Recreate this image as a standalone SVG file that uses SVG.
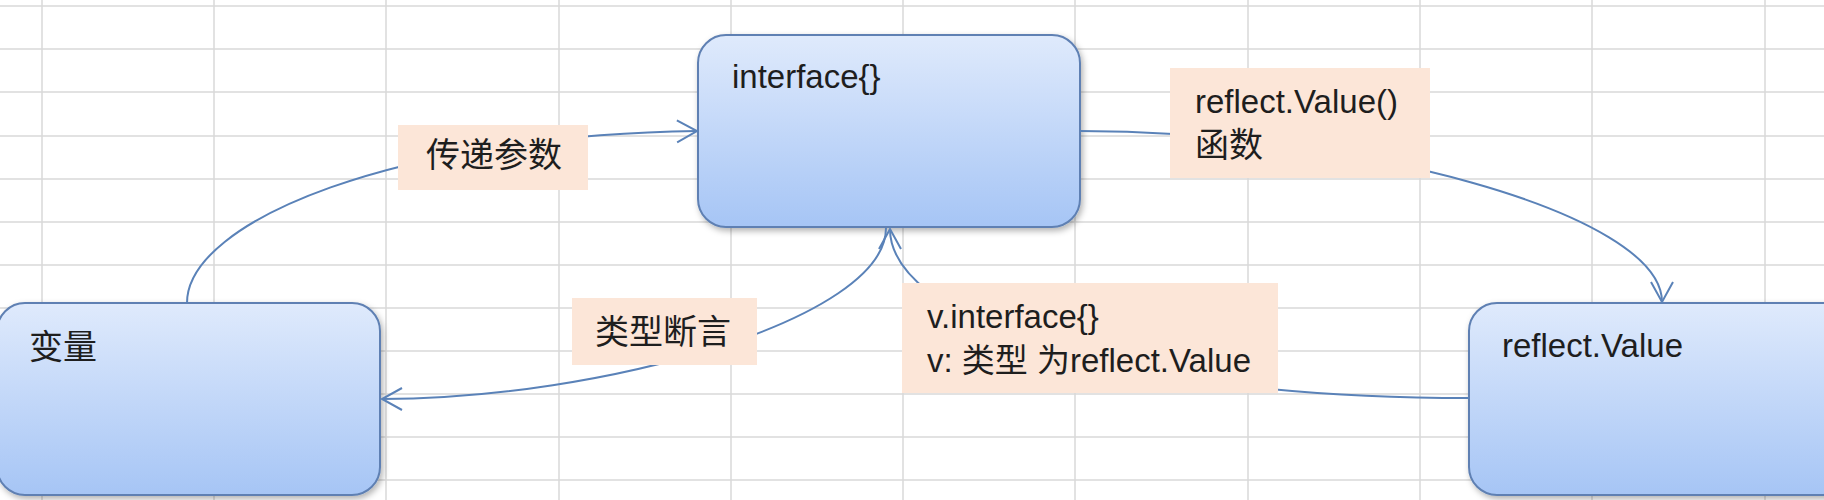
<svg xmlns="http://www.w3.org/2000/svg" width="1824" height="500" viewBox="0 0 1824 500">
<defs>
  <linearGradient id="nodeFill" x1="0" y1="0" x2="0" y2="1">
    <stop offset="0" stop-color="#dfeafc"/>
    <stop offset="1" stop-color="#a6c5f5"/>
  </linearGradient>
  <filter id="shadow" x="-10%" y="-10%" width="125%" height="130%">
    <feDropShadow dx="2" dy="3" stdDeviation="3" flood-color="#000" flood-opacity="0.3"/>
  </filter>
  <marker id="arrow" markerUnits="userSpaceOnUse" viewBox="-24 -14 26 28" refX="0" refY="0" markerWidth="26" markerHeight="28" orient="auto" overflow="visible">
    <path d="M-20,-11 L0,0 L-20,11" fill="none" stroke="#5a82b8" stroke-width="2"/>
  </marker>
</defs>
<style>
  .grid line { stroke: #d9d9d9; stroke-width: 1.5; }
  .box { fill: url(#nodeFill); stroke: #5f80b3; stroke-width: 2; filter: url(#shadow); }
  .lbl { fill: #fce6d8; }
  text { font-family: "Liberation Sans", "Noto Sans CJK SC", sans-serif; font-size: 33px; fill: #1e1e1e; }
  .cjk { font-size: 34px; }
  .conn path { fill: none; stroke: #5a82b8; stroke-width: 2; }
</style>
<rect x="0" y="0" width="1824" height="500" fill="#ffffff"/>
<g class="grid">
  <line x1="42" y1="0" x2="42" y2="500"/>
  <line x1="214" y1="0" x2="214" y2="500"/>
  <line x1="386" y1="0" x2="386" y2="500"/>
  <line x1="559" y1="0" x2="559" y2="500"/>
  <line x1="731" y1="0" x2="731" y2="500"/>
  <line x1="903" y1="0" x2="903" y2="500"/>
  <line x1="1075" y1="0" x2="1075" y2="500"/>
  <line x1="1248" y1="0" x2="1248" y2="500"/>
  <line x1="1420" y1="0" x2="1420" y2="500"/>
  <line x1="1592" y1="0" x2="1592" y2="500"/>
  <line x1="1765" y1="0" x2="1765" y2="500"/>
  <line x1="0" y1="6" x2="1824" y2="6"/>
  <line x1="0" y1="49" x2="1824" y2="49"/>
  <line x1="0" y1="92" x2="1824" y2="92"/>
  <line x1="0" y1="136" x2="1824" y2="136"/>
  <line x1="0" y1="179" x2="1824" y2="179"/>
  <line x1="0" y1="222" x2="1824" y2="222"/>
  <line x1="0" y1="265" x2="1824" y2="265"/>
  <line x1="0" y1="308" x2="1824" y2="308"/>
  <line x1="0" y1="351" x2="1824" y2="351"/>
  <line x1="0" y1="394" x2="1824" y2="394"/>
  <line x1="0" y1="437" x2="1824" y2="437"/>
  <line x1="0" y1="480" x2="1824" y2="480"/>
</g>
<g id="node-interface">
  <rect class="box" x="698" y="35" width="382" height="192" rx="28" ry="28"/>
  <text x="732" y="88">interface{}</text>
</g>
<g id="node-variable">
  <rect class="box" x="-3" y="303" width="383" height="192" rx="28" ry="28"/>
  <text class="cjk" x="29" y="359">变量</text>
</g>
<g id="node-reflect-value">
  <rect class="box" x="1469" y="303" width="382" height="192" rx="28" ry="28"/>
  <text x="1502" y="357">reflect.Value</text>
</g>
<g class="conn" id="connectors">
  <path d="M187,303 C187,220 400,135 697,131" marker-end="url(#arrow)"/>
  <path d="M1080,131 C1350,131 1662,212 1662,302" marker-end="url(#arrow)"/>
  <path d="M886,228 C886,320 600,399 382,399" marker-end="url(#arrow)"/>
  <path d="M1469,398 C1100,398 890,315 890,229" marker-end="url(#arrow)"/>
</g>
<g id="labels">
  <g id="label-pass">
    <rect class="lbl" x="398" y="125" width="190" height="65"/>
    <text class="cjk" x="426" y="167">传递参数</text>
  </g>
  <g id="label-reflect-func">
    <rect class="lbl" x="1170" y="68" width="260" height="110"/>
    <text x="1195" y="113">reflect.Value()</text>
    <text class="cjk" x="1195" y="157">函数</text>
  </g>
  <g id="label-assert">
    <rect class="lbl" x="572" y="298" width="185" height="67"/>
    <text class="cjk" x="595" y="344">类型断言</text>
  </g>
  <g id="label-vinterface">
    <rect class="lbl" x="902" y="283" width="376" height="110"/>
    <text x="927" y="328">v.interface{}</text>
    <text x="927" y="372">v: 类型 为reflect.Value</text>
  </g>
</g>
</svg>
